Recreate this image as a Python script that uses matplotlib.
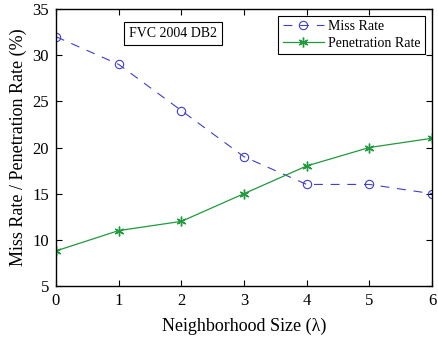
import matplotlib
matplotlib.use('Agg')
import matplotlib.pyplot as plt

plt.rcParams['font.family'] = ['Liberation Serif', 'DejaVu Serif']

size = [0, 1, 2, 3, 4, 5, 6]
miss_rate = [32, 29, 24, 19, 16, 16, 15]
penetration_rate = [8.8, 11, 12, 15, 18, 20, 21]

fig = plt.figure(figsize=(4.39, 3.37), dpi=100)
ax = fig.add_axes([56 / 439, 51 / 337, 376 / 439, 277 / 337])

ax.plot(size, miss_rate, '--o', color='#3f3fc8', linewidth=0.8, markersize=6,
        markerfacecolor='none', markeredgewidth=0.8, dashes=(8, 7), label='Miss Rate')
ax.plot(size, penetration_rate, '-', marker=(6, 2, 0), color='#1f9a3c', linewidth=0.9,
        markersize=7, markeredgewidth=1.0, label='Penetration Rate')

ax.set_xlim(0, 6)
ax.set_ylim(5, 35)
ax.set_xticks(range(7))
ax.set_yticks(range(5, 36, 5))
ax.tick_params(direction='in', top=True, right=True, labelsize=12, length=4, width=0.8, pad=5)
for s in ax.spines.values():
    s.set_linewidth(1.0)

ax.set_xlabel('Neighborhood Size (λ)', fontsize=13, labelpad=6)
ax.set_ylabel('Miss Rate / Penetration Rate (%)', fontsize=13, labelpad=4)

ax.text(1.17, 32.35, 'FVC 2004 DB2', fontsize=10, va='center',
        bbox=dict(boxstyle='square,pad=0.35', facecolor='white', edgecolor='black', linewidth=0.8))

leg = ax.legend(loc='upper right', fontsize=10, fancybox=False, framealpha=1,
                edgecolor='black', borderaxespad=0.5, handlelength=3.0,
                borderpad=0.3, labelspacing=0.25, handletextpad=0.3)
leg.get_frame().set_linewidth(0.8)

plt.savefig('out.png', dpi=100)
